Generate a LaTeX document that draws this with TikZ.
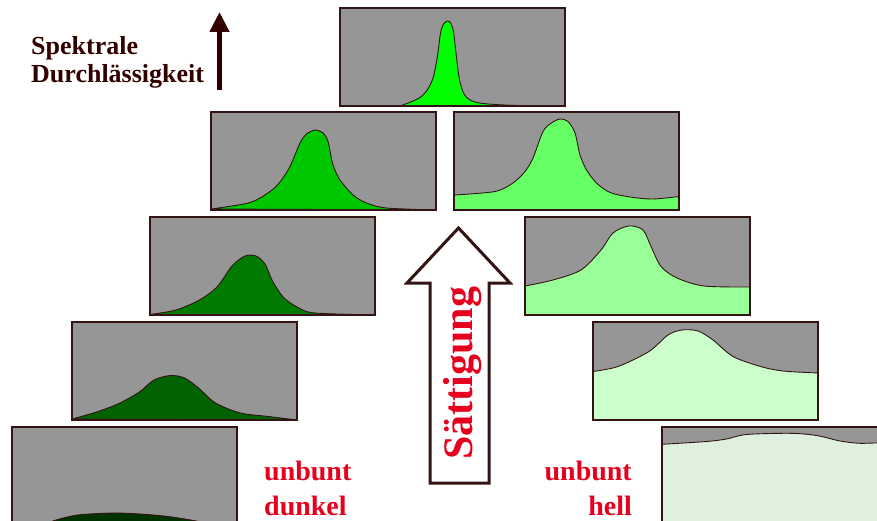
\documentclass[tikz,border=0pt]{standalone}
\usepackage{fontspec}
\setmainfont{Liberation Serif}
\usetikzlibrary{arrows.meta}

\definecolor{specgray}{RGB}{150,150,150}
\definecolor{boxline}{RGB}{50,20,20}
\definecolor{labelbrown}{RGB}{51,0,0}
\definecolor{satred}{RGB}{230,0,30}
\definecolor{gTop}{RGB}{0,255,0}
\definecolor{gLa}{RGB}{0,200,0}
\definecolor{gLb}{RGB}{0,122,0}
\definecolor{gLc}{RGB}{0,98,0}
\definecolor{gLd}{RGB}{0,50,0}
\definecolor{gRa}{RGB}{102,255,102}
\definecolor{gRb}{RGB}{153,255,153}
\definecolor{gRc}{RGB}{204,255,204}
\definecolor{gRd}{RGB}{224,240,222}

\tikzset{
    specbox/.style={draw=boxline, line width=1.4pt},
    bell/.style={draw=boxline, line width=0.9pt, line join=round},
    bigtext/.style={font=\fontsize{42}{42}\selectfont\bfseries, text=satred},
    redlabel/.style={inner sep=0pt, font=\fontsize{28}{28}\selectfont\bfseries, text=satred},
    brownlabel/.style={anchor=base west, inner sep=0pt, font=\fontsize{26}{26}\selectfont\bfseries, text=labelbrown},
}

\begin{document}
\begin{tikzpicture}[x=1pt, y=-1pt]
    \clip (0,0) rectangle (877,521);
    \fill[white] (0,0) rectangle (877,521);
    %
    % gray windows
    \foreach \bx/\by in {340/8, 211/112, 454/112, 150/217, 525/217, 72/322, 593/322, 12/427, 662/427}
        \fill[specgray] (\bx,\by) rectangle ++(225,98);
    %
    % transmission curves
    \filldraw[bell, fill=gTop] plot[smooth] coordinates {(400,106) (412,101.5) (421.5,96.5) (428.5,88) (433.5,76.5) (437.5,56) (440.5,33) (443.5,24) (447.5,21) (451,23.5) (453.5,32) (456,53) (459,77) (463.5,93) (470,100) (483,103.5) (517,105.5) (564,106)} -- cycle;
    \filldraw[bell, fill=gLa] plot[smooth] coordinates {(211.5,209) (250,202.5) (270,191.5) (280,182) (290,166.5) (300,143) (306.5,134) (315,130) (323,133) (328,141.5) (333,165) (340,180) (353,195) (366.5,203) (386.5,208) (436,210)} -- cycle;
    \filldraw[bell, fill=gRa] plot[smooth] coordinates {(454,195) (495,191.5) (513,183) (525,171.5) (533,158) (543,131.5) (551.5,123) (560,119) (568,121.5) (575,133) (580,155) (586.5,170) (596.5,183) (610,192.5) (630,197) (653,199) (679,196.5)} -- (679,210) -- (454,210) -- cycle;
    \filldraw[bell, fill=gLb] plot[smooth] coordinates {(150,314.5) (176,310) (199.5,300) (217,287) (232,266) (245,256) (256,256) (265,264) (273,282) (284,298) (299,308) (315,313) (375,315)} -- cycle;
    \filldraw[bell, fill=gRb] plot[smooth] coordinates {(525,286) (553,280) (581,270) (601,250) (613,233) (629,226) (643,230) (651,246.5) (661,266.5) (677,278) (704,286) (750,287)} -- (750,315) -- (525,315) -- cycle;
    \filldraw[bell, fill=gLc] plot[smooth] coordinates {(72.5,419) (98,411.5) (120,403) (140,391.5) (154,380) (170.5,375.5) (184.5,378) (198.5,388) (215.5,403) (240.5,413) (268.5,416.5) (297,420)} -- cycle;
    \filldraw[bell, fill=gRc] plot[smooth] coordinates {(593,371.5) (618,366.5) (649,351.5) (668,335) (682,330) (698,331) (713,340) (733,356.5) (760.5,366.5) (783,371) (818,373)} -- (818,420) -- (593,420) -- cycle;
    \filldraw[bell, fill=gLd] plot[smooth] coordinates {(40,526) (56,520) (78,515) (112,513) (140,514) (168,516.5) (196,521) (215,526)} -- cycle;
    \filldraw[bell, fill=gRd] plot[smooth] coordinates {(662,444.3) (706.5,441.5) (726.5,439) (746.5,434.5) (790,433.3) (816.5,435.5) (840,441) (860,443.3) (885,442.5)} -- (885,530) -- (662,530) -- cycle;
    %
    % window frames
    \foreach \bx/\by in {340/8, 211/112, 454/112, 150/217, 525/217, 72/322, 593/322, 12/427, 662/427}
        \draw[specbox] (\bx,\by) rectangle ++(225,98);
    %
    % axis arrow
    \coordinate (axbot) at (219.5,90);
    \coordinate (axtop) at (219.5,12);
    \draw[-{Triangle[width=19pt,length=20pt]}, line width=4.5pt, labelbrown] (axbot) -- (axtop);
    \node[brownlabel] (spek)  at (31,55) {Spektrale};
    \node[brownlabel] (durch) at (31,83) {Durchlässigkeit};
    %
    % saturation arrow
    \draw[line width=3pt, draw=boxline, fill=white, line join=miter]
        (430,483) -- (430,283) -- (407,283) -- (458.5,228) -- (510,283) -- (489,283) -- (489,483) -- cycle;
    \node[bigtext, rotate=90, inner sep=0pt] (satt) at (463,373) {Sättigung};
    %
    \node[redlabel, anchor=base west] (unbA) at (264,480) {unbunt};
    \node[redlabel, anchor=base west] (dunk) at (264,515) {dunkel};
    \node[redlabel, anchor=base east] (unbB) at (632,480) {unbunt};
    \node[redlabel, anchor=base east] (hell) at (632,515) {hell};
\end{tikzpicture}
\end{document}
